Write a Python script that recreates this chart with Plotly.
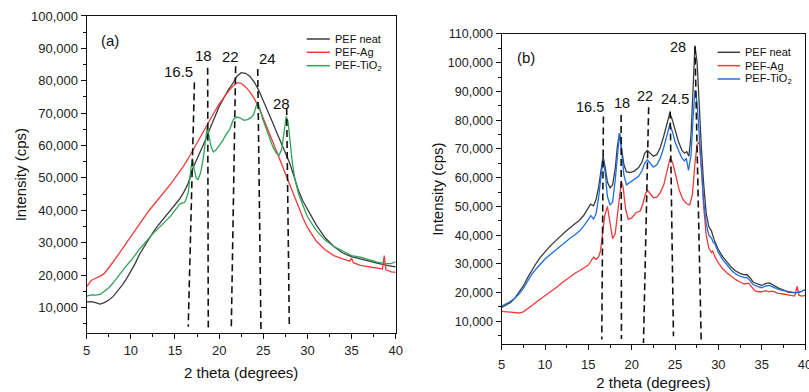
import plotly.graph_objects as go

# ---------------- Panel (a) data ----------------
a_neat_x = [5, 5.5, 6, 6.5, 7, 7.5, 8, 8.5, 9, 9.5, 10, 10.5, 11, 11.5, 12, 12.5, 13, 13.5, 14, 14.5,
            15, 15.5, 16, 16.5, 17, 17.5, 18, 18.5, 19, 19.5, 20, 20.5, 21, 21.5, 22, 22.5, 23, 23.5,
            24, 24.5, 25, 25.5, 26, 26.5, 27, 27.5, 28, 28.5, 29, 29.5, 30, 31, 32, 33, 34, 35, 36,
            37, 38, 39, 40]
a_neat_y = [11700, 11800, 11500, 11000, 11500, 12300, 13400, 15000, 16800, 18800, 21000, 23600, 26500,
            28800, 31100, 33100, 35000, 36700, 38200, 39800, 41600, 43400, 45600, 48300, 52800, 55800,
            58800, 62000, 65500, 69000, 72000, 74500, 77000, 79000, 81300, 82500, 82300, 81300, 79500,
            77000, 74000, 71000, 67500, 64200, 61000, 58000, 54500, 50300, 46000, 42800, 40300, 35500,
            31500, 28800, 26800, 25700, 25000, 24200, 23600, 23000, 22500]

a_ag_x = [5, 5.5, 6, 6.5, 7, 7.5, 8, 8.5, 9, 9.5, 10, 10.5, 11, 11.5, 12, 12.5, 13, 13.5, 14, 14.5,
          15, 15.5, 16, 16.5, 17, 17.5, 18, 18.5, 19, 19.5, 20, 20.5, 21, 21.5, 22, 22.5, 23, 23.5,
          24, 24.5, 25, 25.5, 26, 26.5, 27, 27.5, 28, 28.5, 29, 29.5, 30, 31, 32, 33, 34, 34.8, 35.0,
          35.2, 36, 37, 38, 38.5, 38.7, 38.9, 39.5, 40]
a_ag_y = [16400, 18300, 19000, 19600, 20500, 22200, 24100, 26000, 28000, 30000, 32000, 34000, 36000,
          37900, 39700, 41400, 43000, 44700, 46400, 48100, 49900, 51800, 53800, 56000, 58500, 61000,
          63400, 65800, 68200, 70500, 72800, 74800, 76600, 78200, 79400, 79200, 78100, 76500, 74400,
          71700, 68500, 65200, 61700, 58200, 54700, 51200, 47700, 44300, 40800, 37600, 34700, 30500,
          27800, 26000, 25000, 24300, 25200, 23800, 23000, 22500, 22100, 21900, 26000, 21600, 21000,
          20800]

a_ti_x = [5, 5.5, 6, 6.5, 7, 7.5, 8, 8.5, 9, 9.5, 10, 10.5, 11, 11.5, 12, 12.5, 13, 13.5, 14, 14.5,
          15, 15.5, 15.8, 16.0, 16.2, 16.5, 16.75, 16.95, 17.15, 17.4, 17.6, 17.9, 18.2, 18.45, 18.65,
          18.85, 19.1, 19.35, 19.6, 20, 20.4, 20.8, 21.2, 21.6, 22, 22.4, 22.8, 23.2, 23.6, 23.9,
          24.15, 24.35, 24.6, 24.9, 25.3, 25.7, 26.1, 26.5, 26.8, 27.1, 27.35, 27.6, 27.8, 28.0, 28.3,
          28.6, 29, 29.5, 30, 31, 32, 33, 34, 35, 36, 37, 38, 39, 39.5, 40]
a_ti_y = [13500, 13900, 13800, 14000, 15000, 16100, 17600, 19500, 21300, 22900, 24400, 26300, 28100,
          29600, 31300, 32800, 34100, 35300, 36800, 38200, 40000, 41800, 42300, 42300, 43000, 45500,
          51500, 56000, 53000, 50000, 49500, 51500, 56000, 62000, 65500, 63000, 59500, 58000, 58500,
          60000, 61500, 63500, 65000, 68000, 68800, 68500, 67800, 68000, 68600, 69500, 72000, 73500,
          71500, 68500, 65500, 62500, 59500, 57500, 57000, 59000, 64000, 69000, 67500, 61500, 54500,
          49500, 45000, 41500, 38000, 33800, 30800, 28800, 27300, 26000, 25500, 24600, 23900, 23500,
          23500, 24100]

a_peak_labels = ["16.5", "18", "22", "24", "28"]
a_label_x = [15.4, 18.26, 21.29, 25.5, 27.04]
a_label_y = [82800, 87950, 87450, 86930, 73030]
a_line_x_top = [17.2, 18.7, 21.87, 24.37, 27.65]
a_line_y_top = [79500, 84000, 84500, 83600, 71600]
a_line_x_bot = [16.5, 18.77, 21.38, 24.74, 27.95]
a_line_y_bot = [4000, 3800, 4000, 3000, 4200]

# ---------------- Panel (b) data ----------------
b_neat_x = [5, 5.5, 6, 6.5, 7, 7.5, 8, 8.5, 9, 9.5, 10, 10.5, 11, 11.5, 12, 12.5, 13, 13.5, 14, 14.5,
            15, 15.25, 15.6, 15.9, 16.2, 16.45, 16.7, 16.95, 17.2, 17.5, 17.8, 18.1, 18.35, 18.6, 18.85,
            19.1, 19.4, 19.8, 20.3, 20.8, 21.2, 21.5, 21.8, 22.1, 22.5, 22.9, 23.3, 23.7, 24.1, 24.4,
            24.7, 25.0, 25.4, 25.8, 26.1, 26.35, 26.6, 26.85, 27.05, 27.3, 27.55, 27.8, 28.05, 28.3,
            28.6, 28.9, 29.2, 29.5, 30, 30.5, 31, 31.5, 32, 32.5, 33, 33.3, 33.7, 34, 34.5, 35, 35.5,
            35.9, 36.4, 37, 37.5, 38, 38.5, 39, 39.5, 40]
b_neat_y = [14800, 15600, 16500, 18000, 20000, 22300, 25200, 28000, 30300, 32400, 34300, 35900, 37400,
            38900, 40300, 41600, 42800, 44000, 45300, 47000, 49300, 50800, 50200, 52500, 57000, 63000,
            67500, 63500, 58500, 56500, 57500, 63000, 71000, 75500, 70500, 64500, 62000, 61800, 62300,
            63500, 65500, 68500, 69500, 68500, 67500, 68000, 70500, 74500, 79500, 82500, 80000, 76500,
            72500, 69500, 68500, 69000, 67500, 75000, 90000, 106000, 100000, 84000, 70000, 58000, 47500,
            43000, 41500, 38500, 35000, 32500, 30500, 28800, 27500, 26700, 26200, 26300, 25000, 23700,
            23000, 22500, 23200, 23400, 22500, 21500, 21000, 20200, 20000, 20000, 20300, 21000]

b_ag_x = [5, 5.5, 6, 6.5, 7, 7.5, 8, 8.5, 9, 9.5, 10, 10.5, 11, 11.5, 12, 12.5, 13, 13.5, 14, 14.5, 15,
          15.3, 15.6, 15.9, 16.2, 16.4, 16.6, 16.9, 17.2, 17.5, 17.8, 18.1, 18.45, 18.8, 19.0, 19.3,
          19.6, 20.0, 20.5, 21.0, 21.3, 21.6, 21.85, 22.1, 22.5, 22.9, 23.3, 23.7, 24.1, 24.45, 24.75,
          25.1, 25.5, 25.9, 26.3, 26.7, 27.0, 27.3, 27.55, 27.8, 28.05, 28.3, 28.6, 28.9, 29.2, 29.35,
          29.6, 30, 30.5, 31, 31.5, 32, 32.5, 33, 33.5, 33.8, 34.2, 34.6, 35, 35.5, 35.8, 36.3, 36.8,
          37.3, 37.8, 38.3, 38.8, 39.1, 39.3, 39.7, 40]
b_ag_y = [13500, 13300, 13200, 13000, 12900, 13300, 14300, 15500, 16700, 17800, 18800, 19800, 21000,
          22200, 23500, 24700, 25800, 26800, 27700, 28600, 29600, 31000, 32300, 31600, 32500, 34500,
          40000, 47000, 50000, 44000, 38800, 40500, 50000, 58500, 57000, 49000, 45500, 46000, 47800,
          48500, 51000, 54500, 55500, 54500, 53000, 53200, 54800, 57500, 62500, 67000, 65000, 60000,
          55500, 52500, 51000, 50500, 54000, 65000, 71500, 72500, 63000, 50000, 40000, 35500, 34000,
          34500, 32500, 30300, 28300, 26800, 25500, 24500, 23700, 23000, 23300, 22000, 20700, 20300,
          20300, 20700, 20300, 20500, 19800, 19600, 19300, 19000, 18800, 22200, 19000, 18800, 19000]

b_ti_x = [5, 5.5, 6, 6.5, 7, 7.5, 8, 8.5, 9, 9.5, 10, 10.5, 11, 11.5, 12, 12.5, 13, 13.5, 14, 14.5,
          15, 15.3, 15.6, 15.9, 16.2, 16.45, 16.7, 16.95, 17.2, 17.5, 17.8, 18.1, 18.35, 18.6, 18.85,
          19.1, 19.4, 19.8, 20.3, 20.8, 21.2, 21.5, 21.8, 22.1, 22.5, 22.9, 23.3, 23.7, 24.1, 24.4,
          24.7, 25.0, 25.4, 25.8, 26.1, 26.3, 26.55, 26.85, 27.05, 27.3, 27.55, 27.8, 28.05, 28.3,
          28.6, 28.9, 29.2, 29.4, 29.6, 30, 30.5, 31, 31.5, 32, 32.5, 33, 33.3, 33.7, 34, 34.5, 35,
          35.5, 35.9, 36.4, 37, 37.5, 38, 38.5, 39, 39.5, 40]
b_ti_y = [15300, 16000, 16900, 18000, 19500, 21500, 24000, 26500, 28300, 30000, 31700, 33000, 34300,
          35500, 36800, 38000, 39200, 40200, 41500, 43300, 45300, 46800, 45600, 47500, 53500, 61000,
          66500, 61500, 53500, 50500, 51500, 59000, 69000, 75500, 69000, 61000, 57500, 58300, 59200,
          60500, 62500, 65000, 66200, 65000, 63700, 64500, 66800, 70500, 75500, 78500, 76000, 72500,
          69500, 66800, 65800, 66800, 62500, 68000, 79000, 90500, 86000, 74000, 62000, 52000, 44000,
          40000, 39000, 37500, 37000, 34000, 31500, 29500, 27800, 26500, 25700, 25200, 25300, 24000,
          22800, 22200, 21700, 22300, 22500, 21800, 21000, 20700, 20400, 20200, 19900, 20300, 21000]

b_peak_labels = ["16.5", "18", "22", "24.5", "28"]
b_label_x = [15.24, 18.88, 21.59, 24.98, 25.4]
b_label_y = [84730, 85900, 88560, 87300, 105380]
b_line_x_top = [16.74, 18.78, 21.96, 24.44, 27.3]
b_line_y_top = [81250, 81850, 84500, 83000, 105600]
b_line_x_bot = [16.55, 18.82, 21.36, 24.82, 28.02]
b_line_y_bot = [3640, 3860, 2500, 4800, 3050]

series_names = ["PEF neat", "PEF-Ag", "PEF-TiO<sub>2</sub>"]
a_colors = ["#3d3d3d", "#f03a3a", "#2ea35a"]
b_colors = ["#3d3d3d", "#f03a3a", "#1f6fe0"]

FONT = "Liberation Sans, Arial, sans-serif"

fig = go.Figure()

# data traces
for (xs, ys, c, n) in [(a_neat_x, a_neat_y, a_colors[0], series_names[0]),
                       (a_ag_x, a_ag_y, a_colors[1], series_names[1]),
                       (a_ti_x, a_ti_y, a_colors[2], series_names[2])]:
    fig.add_trace(go.Scatter(x=xs, y=ys, mode="lines", name=n, showlegend=False,
                             line=dict(color=c, width=1.3), xaxis="x", yaxis="y"))
for (xs, ys, c, n) in [(b_neat_x, b_neat_y, b_colors[0], series_names[0]),
                       (b_ag_x, b_ag_y, b_colors[1], series_names[1]),
                       (b_ti_x, b_ti_y, b_colors[2], series_names[2])]:
    fig.add_trace(go.Scatter(x=xs, y=ys, mode="lines", name=n, showlegend=False,
                             line=dict(color=c, width=1.3), xaxis="x2", yaxis="y2"))

# dashed peak marker lines
for i in range(len(a_peak_labels)):
    fig.add_trace(go.Scatter(x=[a_line_x_top[i], a_line_x_bot[i]], y=[a_line_y_top[i], a_line_y_bot[i]],
                             mode="lines", showlegend=False, hoverinfo="skip",
                             line=dict(color="#111111", width=1.6, dash="7px,4px"),
                             xaxis="x", yaxis="y"))
for i in range(len(b_peak_labels)):
    fig.add_trace(go.Scatter(x=[b_line_x_top[i], b_line_x_bot[i]], y=[b_line_y_top[i], b_line_y_bot[i]],
                             mode="lines", showlegend=False, hoverinfo="skip",
                             line=dict(color="#111111", width=1.6, dash="7px,4px"),
                             xaxis="x2", yaxis="y2"))

annotations = []
for t, x, y in zip(a_peak_labels, a_label_x, a_label_y):
    annotations.append(dict(text=t, x=x, y=y, xref="x", yref="y", showarrow=False,
                            font=dict(size=15, color="#111111", family=FONT)))
for t, x, y in zip(b_peak_labels, b_label_x, b_label_y):
    annotations.append(dict(text=t, x=x, y=y, xref="x2", yref="y2", showarrow=False,
                            font=dict(size=14.5, color="#111111", family=FONT)))

annotations.append(dict(text="(a)", x=0.040, y=0.956, xref="x domain", yref="y domain", showarrow=False,
                        font=dict(size=15, color="#111111", family=FONT)))
annotations.append(dict(text="(b)", x=0.043, y=0.959, xref="x2 domain", yref="y2 domain", showarrow=False,
                        font=dict(size=15, color="#111111", family=FONT)))

# manual legends
shapes = []
a_leg_rows = [0.9275, 0.8856, 0.8434]
b_leg_rows = [0.941, 0.898, 0.855]
for i in range(3):
    shapes.append(dict(type="line", xref="x domain", yref="y domain", x0=0.712, x1=0.787,
                       y0=a_leg_rows[i], y1=a_leg_rows[i], line=dict(color=a_colors[i], width=1.5)))
    annotations.append(dict(text=series_names[i], x=0.797, y=a_leg_rows[i], xref="x domain", yref="y domain",
                            xanchor="left", yanchor="middle", showarrow=False,
                            font=dict(size=11, color="#111111", family=FONT)))
    shapes.append(dict(type="line", xref="x2 domain", yref="y2 domain", x0=0.712, x1=0.786,
                       y0=b_leg_rows[i], y1=b_leg_rows[i], line=dict(color=b_colors[i], width=1.5)))
    annotations.append(dict(text=series_names[i], x=0.795, y=b_leg_rows[i], xref="x2 domain", yref="y2 domain",
                            xanchor="left", yanchor="middle", showarrow=False,
                            font=dict(size=11, color="#111111", family=FONT)))

def xaxis_cfg(domain, tfs, standoff, lab_standoff):
    return dict(domain=domain, range=[5, 40], dtick=5, tick0=0, ticks="outside", ticklen=5, tickwidth=1.2,
                tickcolor="#111111", showline=True, mirror=True, linecolor="#111111", linewidth=1.3,
                showgrid=False, zeroline=False, tickfont=dict(size=tfs, family=FONT, color="#222222"),
                ticklabeloverflow="allow", ticklabelstandoff=lab_standoff,
                minor=dict(dtick=2.5, tick0=0, ticks="outside", ticklen=3, tickwidth=1.2, tickcolor="#111111"),
                title=dict(text="2 theta (degrees)", font=dict(size=15, family=FONT, color="#111111"),
                           standoff=standoff),
                automargin=False)

def yaxis_cfg(domain, anchor, rng, tfs):
    return dict(domain=domain, anchor=anchor, range=rng, dtick=10000, tick0=0, tickformat=",d", ticks="outside",
                ticklen=5, tickwidth=1.2, tickcolor="#111111", showline=True, mirror=True, linecolor="#111111",
                linewidth=1.3, showgrid=False, zeroline=False,
                tickfont=dict(size=tfs, family=FONT, color="#222222"),
                minor=dict(dtick=5000, tick0=0, ticks="outside", ticklen=3, tickwidth=1.2, tickcolor="#111111"),
                title=dict(text="Intensity (cps)", font=dict(size=15, family=FONT, color="#111111"), standoff=0),
                automargin=False)

fig.update_layout(
    width=809, height=392,
    margin=dict(l=0, r=0, t=0, b=0),
    paper_bgcolor="white", plot_bgcolor="white",
    font=dict(family=FONT),
    xaxis=dict(xaxis_cfg([0.1072, 0.4891], 13, 10, 0), anchor="y"),
    yaxis=yaxis_cfg([0.1497, 0.9592], "x", [2000, 100000], 13),
    xaxis2=dict(xaxis_cfg([0.6201, 0.9951], 13, 6, 3), anchor="y2"),
    yaxis2=yaxis_cfg([0.1216, 0.9133], "x2", [2000, 110000], 12.5),
    annotations=annotations,
    shapes=shapes,
    showlegend=False,
)

fig.write_html("out.html")
